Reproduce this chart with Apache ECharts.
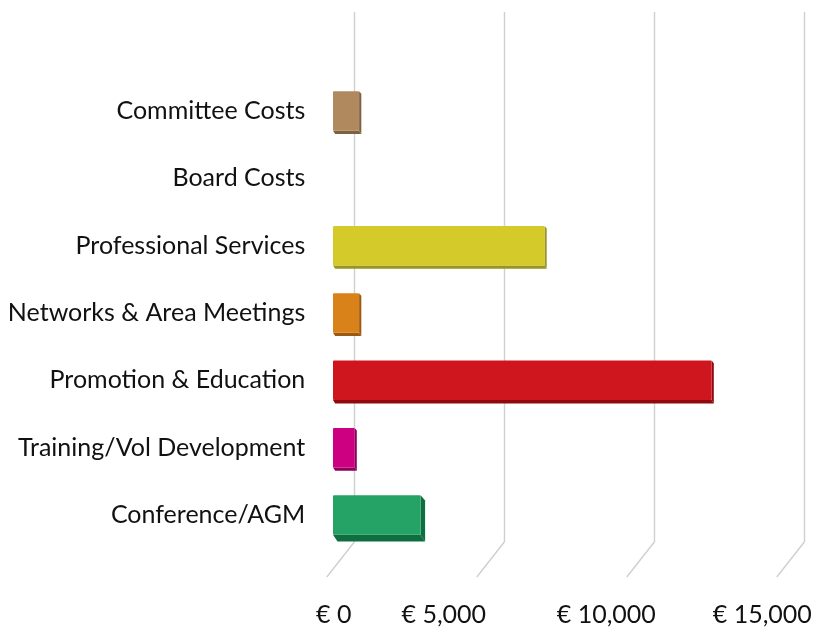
<!DOCTYPE html>
<html><head><meta charset="utf-8">
<script src="https://cdn.jsdelivr.net/npm/echarts@6/dist/echarts.min.js"></script>
<style>html,body{margin:0;padding:0;background:#fff}#c{width:820px;height:629px}</style>
</head><body><div id="c"></div>
<script>
const categories = ['Committee Costs','Board Costs','Professional Services','Networks & Area Meetings','Promotion & Education','Training/Vol Development','Conference/AGM'];
const values = [870, 0, 7050, 870, 12620, 720, 2920];
const colors = ['#B08A5E','#B08A5E','#D4CB2B','#D9821A','#CF161F','#CC0080','#25A366'];
const sideColors = ['#7E6240','#7E6240','#9A9420','#9C5A10','#8E0A0F','#8E005A','#0F6E40'];
const tickValues = [0, 5000, 10000, 15000];
const tickLabels = ['€ 0','€ 5,000','€ 10,000','€ 15,000'];

const FONT = 'Lato';
const labelShift = [41, 121, 96, 84];
const rich = {};
tickLabels.forEach((t,i)=>{ rich['s'+i] = {fontFamily:FONT,fontSize:25,color:'#111',padding:[0,labelShift[i],0,0]}; });

const chart = echarts.init(document.getElementById('c'));
chart.setOption({
  animation:false,
  grid:[
    {left:354.3, right:15.7, top:12, bottom:87},
    {left:354.3, right:15.7, top:77.3, bottom:80.3}
  ],
  xAxis:[
    {gridIndex:0, type:'value', min:0, max:15000, interval:5000,
     axisLine:{show:false}, axisTick:{show:false},
     splitLine:{show:true, lineStyle:{color:'#cfcfcf', width:1.4}},
     axisLabel:{margin:60, fontFamily:FONT, fontSize:25, color:'#111', rich:rich,
       formatter:(v)=>{const i=tickValues.indexOf(v); return '{s'+i+'|'+tickLabels[i]+'}';}}},
    {gridIndex:1, type:'value', min:0, max:15000, interval:5000, show:false, splitLine:{show:false}}
  ],
  yAxis:[
    {gridIndex:0, type:'value', show:false, min:0, max:1},
    {gridIndex:1, type:'category', data:categories, inverse:true,
     axisLine:{show:false}, axisTick:{show:false},
     axisLabel:{margin:49, fontFamily:FONT, fontSize:25, color:'#111'}}
  ],
  series:[
    {type:'custom', xAxisIndex:0, yAxisIndex:0, z:1, silent:true,
     data:tickValues.map(v=>[v,0]),
     renderItem:(params, api)=>{
       const p = api.coord([api.value(0), 0]);
       return {type:'line', shape:{x1:p[0], y1:p[1], x2:p[0]-27.5, y2:p[1]+35},
               style:{stroke:'#cfcfcf', lineWidth:1.4}};
     }},
    {type:'custom', xAxisIndex:1, yAxisIndex:1, z:5, silent:true,
     data:values.map((v,i)=>[v,i]),
     renderItem:(params, api)=>{
       const idx = api.value(1);
       const v = api.value(0);
       if (!v) return null;
       const p0 = api.coord([0, idx]);
       const p1 = api.coord([v, idx]);
       const band = api.size([0,1])[1];
       const h = band*0.587;
       const off = -21.3;
       const x0 = p0[0]+off, x1 = p1[0]+off;
       const yT = p0[1]-h/2, yB = p0[1]+h/2;
       const big = p0[1] > 490;
       const dx = big ? 4.5 : 2.2, dy = big ? 6.6 : 3.3;
       const c = colors[idx], s = sideColors[idx];
       return {type:'group', children:[
         {type:'polygon', shape:{points:[[x0,yB],[x1,yB],[x1+dx,yB+dy],[x0+dx,yB+dy]]}, style:{fill:s}},
         {type:'polygon', shape:{points:[[x1,yT],[x1+dx,yT+dy*0.8],[x1+dx,yB+dy],[x1,yB]]}, style:{fill:s}},
         {type:'rect', shape:{x:x0, y:yT, width:x1-x0, height:h, r:1}, style:{fill:c}}
       ]};
     }}
  ]
});
</script></body></html>
